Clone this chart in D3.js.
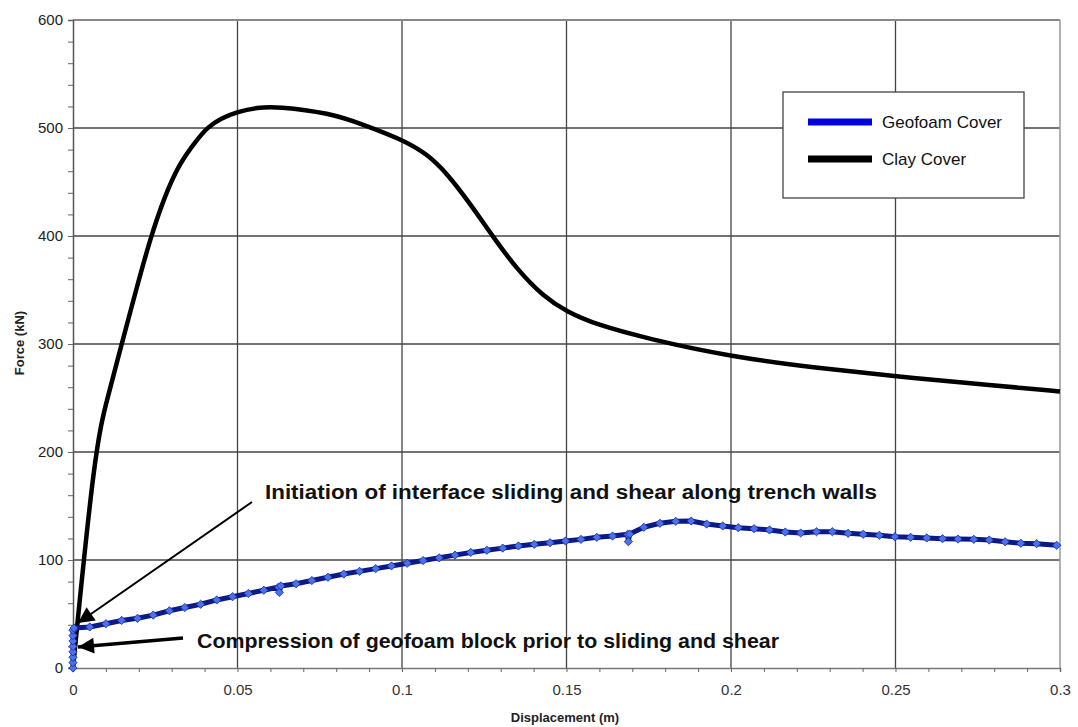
<!DOCTYPE html>
<html>
<head>
<meta charset="utf-8">
<script src="https://cdn.jsdelivr.net/npm/d3@7"></script>
<style>
  body { margin: 0; background: #fff; }
  svg { display: block; font-family: Arial, "Liberation Sans", Helvetica, sans-serif; }
</style>
</head>
<body>
<svg id="chart" width="1078" height="727"></svg>
<script>
// clay cover curve
var clayDisp  = [0, 0.0067, 0.0105, 0.0148, 0.019, 0.0234, 0.028, 0.0325, 0.0377, 0.0406, 0.045, 0.05, 0.056, 0.062, 0.078, 0.0884, 0.1003, 0.1076, 0.1137, 0.1207, 0.1277, 0.135, 0.143, 0.15, 0.159, 0.1745, 0.2003, 0.226, 0.25, 0.2717, 0.3];
var clayForce = [0, 205, 250, 300, 348, 397, 438, 468, 489, 500, 509, 515, 519, 520, 514, 503, 489, 476, 458, 430, 399, 369, 344, 330, 318, 305, 288, 278, 270, 264, 256];

// geofoam cover curve (one entry per marker)
var geoDisp  = [0, 0, 0, 0, 0, 0, 0, 0, 0.0003, 0.0051, 0.0100, 0.0148, 0.0196, 0.0244, 0.0293, 0.0340, 0.0388, 0.0437, 0.0485, 0.0533, 0.0580, 0.0625, 0.0627, 0.0632,
  0.0678, 0.0726, 0.0775, 0.0823, 0.0871, 0.0920, 0.0968, 0.1016, 0.1064, 0.1113, 0.1161, 0.1209, 0.1258, 0.1306, 0.1354, 0.1402,
  0.1450, 0.1497, 0.1544, 0.1592, 0.1640, 0.1686, 0.1688, 0.1692, 0.1735, 0.1784, 0.1832, 0.1879, 0.1926, 0.1975, 0.2022, 0.2070, 0.2117, 0.2165,
  0.2212, 0.2260, 0.2308, 0.2356, 0.2402, 0.2451, 0.2498, 0.2546, 0.2595, 0.2643, 0.2690, 0.2738, 0.2785, 0.2833, 0.2881, 0.2929, 0.2990];
var geoForce = [0, 5, 10, 15, 20, 25, 30, 35, 37, 38, 41, 44, 46, 49, 53, 56, 59, 63, 66, 69, 72, 75, 70, 76,
  78, 81, 84, 87, 89.5, 92, 94.5, 97, 99.5, 102, 104.5, 107, 109, 111, 113, 114.5,
  116, 117.6, 119.1, 121, 122.2, 123.8, 117, 124, 130.3, 134, 135.8, 136.1, 133.3, 131.5, 129.9, 129, 127.8, 125.9,
  125, 126.2, 126.2, 124.7, 123.8, 122.9, 121.6, 121, 120.4, 119.7, 119.4, 119.1, 118.5, 116.9, 115.5, 115.1, 113.6];

var xTicks = [0, 0.05, 0.1, 0.15, 0.2, 0.25, 0.3];
var xTickLabels = ["0", "0.05", "0.1", "0.15", "0.2", "0.25", "0.3"];
var yTicks = [0, 100, 200, 300, 400, 500, 600];
var seriesNames = ["Geofoam Cover", "Clay Cover"];
var notes = ["Initiation of interface sliding and shear along trench walls",
             "Compression of geofoam block prior to sliding and shear"];

var svg = d3.select("#chart");

var x = d3.scaleLinear().domain([0, 0.3]).range([73, 1060]);
var y = d3.scaleLinear().domain([0, 600]).range([668, 20]);

// grid
svg.append("g")
    .selectAll("line")
    .data(xTicks.slice(1, -1))
    .enter()
    .append("line")
    .attr("x1", d => x(d)).attr("x2", d => x(d))
    .attr("y1", y(600)).attr("y2", y(0))
    .attr("stroke", "#444").attr("stroke-width", 1.3);

svg.append("g")
    .selectAll("line")
    .data(yTicks.slice(1, -1))
    .enter()
    .append("line")
    .attr("x1", x(0)).attr("x2", x(0.3))
    .attr("y1", d => y(d)).attr("y2", d => y(d))
    .attr("stroke", "#444").attr("stroke-width", 1.3);

// frame top/right
svg.append("line")
    .attr("x1", x(0)).attr("x2", x(0.3)).attr("y1", y(600)).attr("y2", y(600))
    .attr("stroke", "#888").attr("stroke-width", 2);
svg.append("line")
    .attr("x1", x(0.3)).attr("x2", x(0.3)).attr("y1", y(600)).attr("y2", y(0))
    .attr("stroke", "#999").attr("stroke-width", 1.5);

// y axis
var yAxis = svg.append("g")
    .attr("transform", "translate(" + x(0) + ",0)")
    .call(d3.axisLeft(y).tickValues(d3.range(0, 601, 20)).tickSize(5).tickFormat(d => d % 100 === 0 ? d : ""));
yAxis.select(".domain").attr("stroke", "#555").attr("stroke-width", 1.5);
yAxis.selectAll(".tick line").attr("stroke", "#666");
yAxis.selectAll(".tick text")
    .attr("font-size", 15).attr("fill", "#222").attr("x", -10);

// x axis
var xAxis = svg.append("g")
    .attr("transform", "translate(0," + y(0) + ")")
    .call(d3.axisBottom(x).tickValues(d3.range(0, 31).map(i => i / 100)).tickSize(4)
        .tickFormat((d, i) => i % 5 === 0 ? xTickLabels[i / 5] : ""));
xAxis.select(".domain").attr("stroke", "#777").attr("stroke-width", 1.5);
xAxis.selectAll(".tick line").attr("stroke", "#666");
xAxis.selectAll(".tick text")
    .attr("font-size", 15).attr("fill", "#333").attr("y", 16);

// axis titles
svg.append("text")
    .attr("x", 565).attr("y", 722)
    .attr("text-anchor", "middle")
    .attr("font-size", 13).attr("font-weight", "bold").attr("fill", "#222")
    .text("Displacement (m)");
svg.append("text")
    .attr("transform", "translate(24,343) rotate(-90)")
    .attr("text-anchor", "middle")
    .attr("font-size", 13).attr("font-weight", "bold").attr("fill", "#222")
    .text("Force (kN)");

// clay line
var clay = clayDisp.map((d, i) => ({ x: d, y: clayForce[i] }));

svg.append("path")
    .datum(clay)
    .attr("d", d3.line().x(d => x(d.x)).y(d => y(d.y)).curve(d3.curveBasis))
    .attr("fill", "none")
    .attr("stroke", "#000")
    .attr("stroke-width", 4.5)
    .attr("stroke-linejoin", "round");

// geofoam line + markers
var geo = geoDisp.map((d, i) => ({ x: d, y: geoForce[i] }));
svg.append("path")
    .datum(geo)
    .attr("d", d3.line().x(d => x(d.x)).y(d => y(d.y)))
    .attr("fill", "none")
    .attr("stroke", "#0d1a86")
    .attr("stroke-width", 5)
    .attr("stroke-linejoin", "round");

svg.append("g")
    .selectAll("path")
    .data(geo)
    .enter()
    .append("path")
    .attr("transform", d => "translate(" + x(d.x) + "," + y(d.y) + ") rotate(45)")
    .attr("d", d3.symbol().type(d3.symbolSquare).size(34))
    .attr("fill", "#4a72f0")
    .attr("stroke", "#1c2f9c")
    .attr("stroke-width", 0.8);

// legend
var legend = svg.append("g");
legend.append("rect")
    .attr("x", 783).attr("y", 92).attr("width", 241).attr("height", 106)
    .attr("fill", "#fff").attr("stroke", "#444").attr("stroke-width", 1.3);
var legendColors = ["#0000e6", "#000"];
seriesNames.forEach((name, i) => {
    legend.append("line")
        .attr("x1", 808).attr("x2", 872)
        .attr("y1", 122 + i * 37).attr("y2", 122 + i * 37)
        .attr("stroke", legendColors[i]).attr("stroke-width", 7);
    legend.append("text")
        .attr("x", 882).attr("y", 128 + i * 37)
        .attr("font-size", 17).attr("fill", "#111")
        .text(name);
});

// annotations
var defs = svg.append("defs");
defs.append("marker")
    .attr("id", "arrow")
    .attr("viewBox", "0 0 10 10")
    .attr("refX", 10).attr("refY", 5)
    .attr("markerWidth", 26).attr("markerHeight", 16)
    .attr("markerUnits", "userSpaceOnUse")
    .attr("orient", "auto")
    .append("path")
    .attr("d", "M0,0 L10,5 L0,10 z")
    .attr("fill", "#000");

svg.append("line")
    .attr("x1", 252).attr("y1", 502).attr("x2", 78).attr("y2", 623)
    .attr("stroke", "#000").attr("stroke-width", 2)
    .attr("marker-end", "url(#arrow)");
svg.append("line")
    .attr("x1", 183).attr("y1", 638).attr("x2", 78).attr("y2", 647)
    .attr("stroke", "#000").attr("stroke-width", 3.5)
    .attr("marker-end", "url(#arrow)");

svg.append("text")
    .attr("x", 265).attr("y", 499)
    .attr("font-size", 20).attr("font-weight", "bold").attr("fill", "#111")
    .attr("textLength", 612).attr("lengthAdjust", "spacingAndGlyphs")
    .text(notes[0]);
svg.append("text")
    .attr("x", 197).attr("y", 648)
    .attr("font-size", 21).attr("font-weight", "bold").attr("fill", "#111")
    .attr("textLength", 582).attr("lengthAdjust", "spacingAndGlyphs")
    .text(notes[1]);
</script>
</body>
</html>
